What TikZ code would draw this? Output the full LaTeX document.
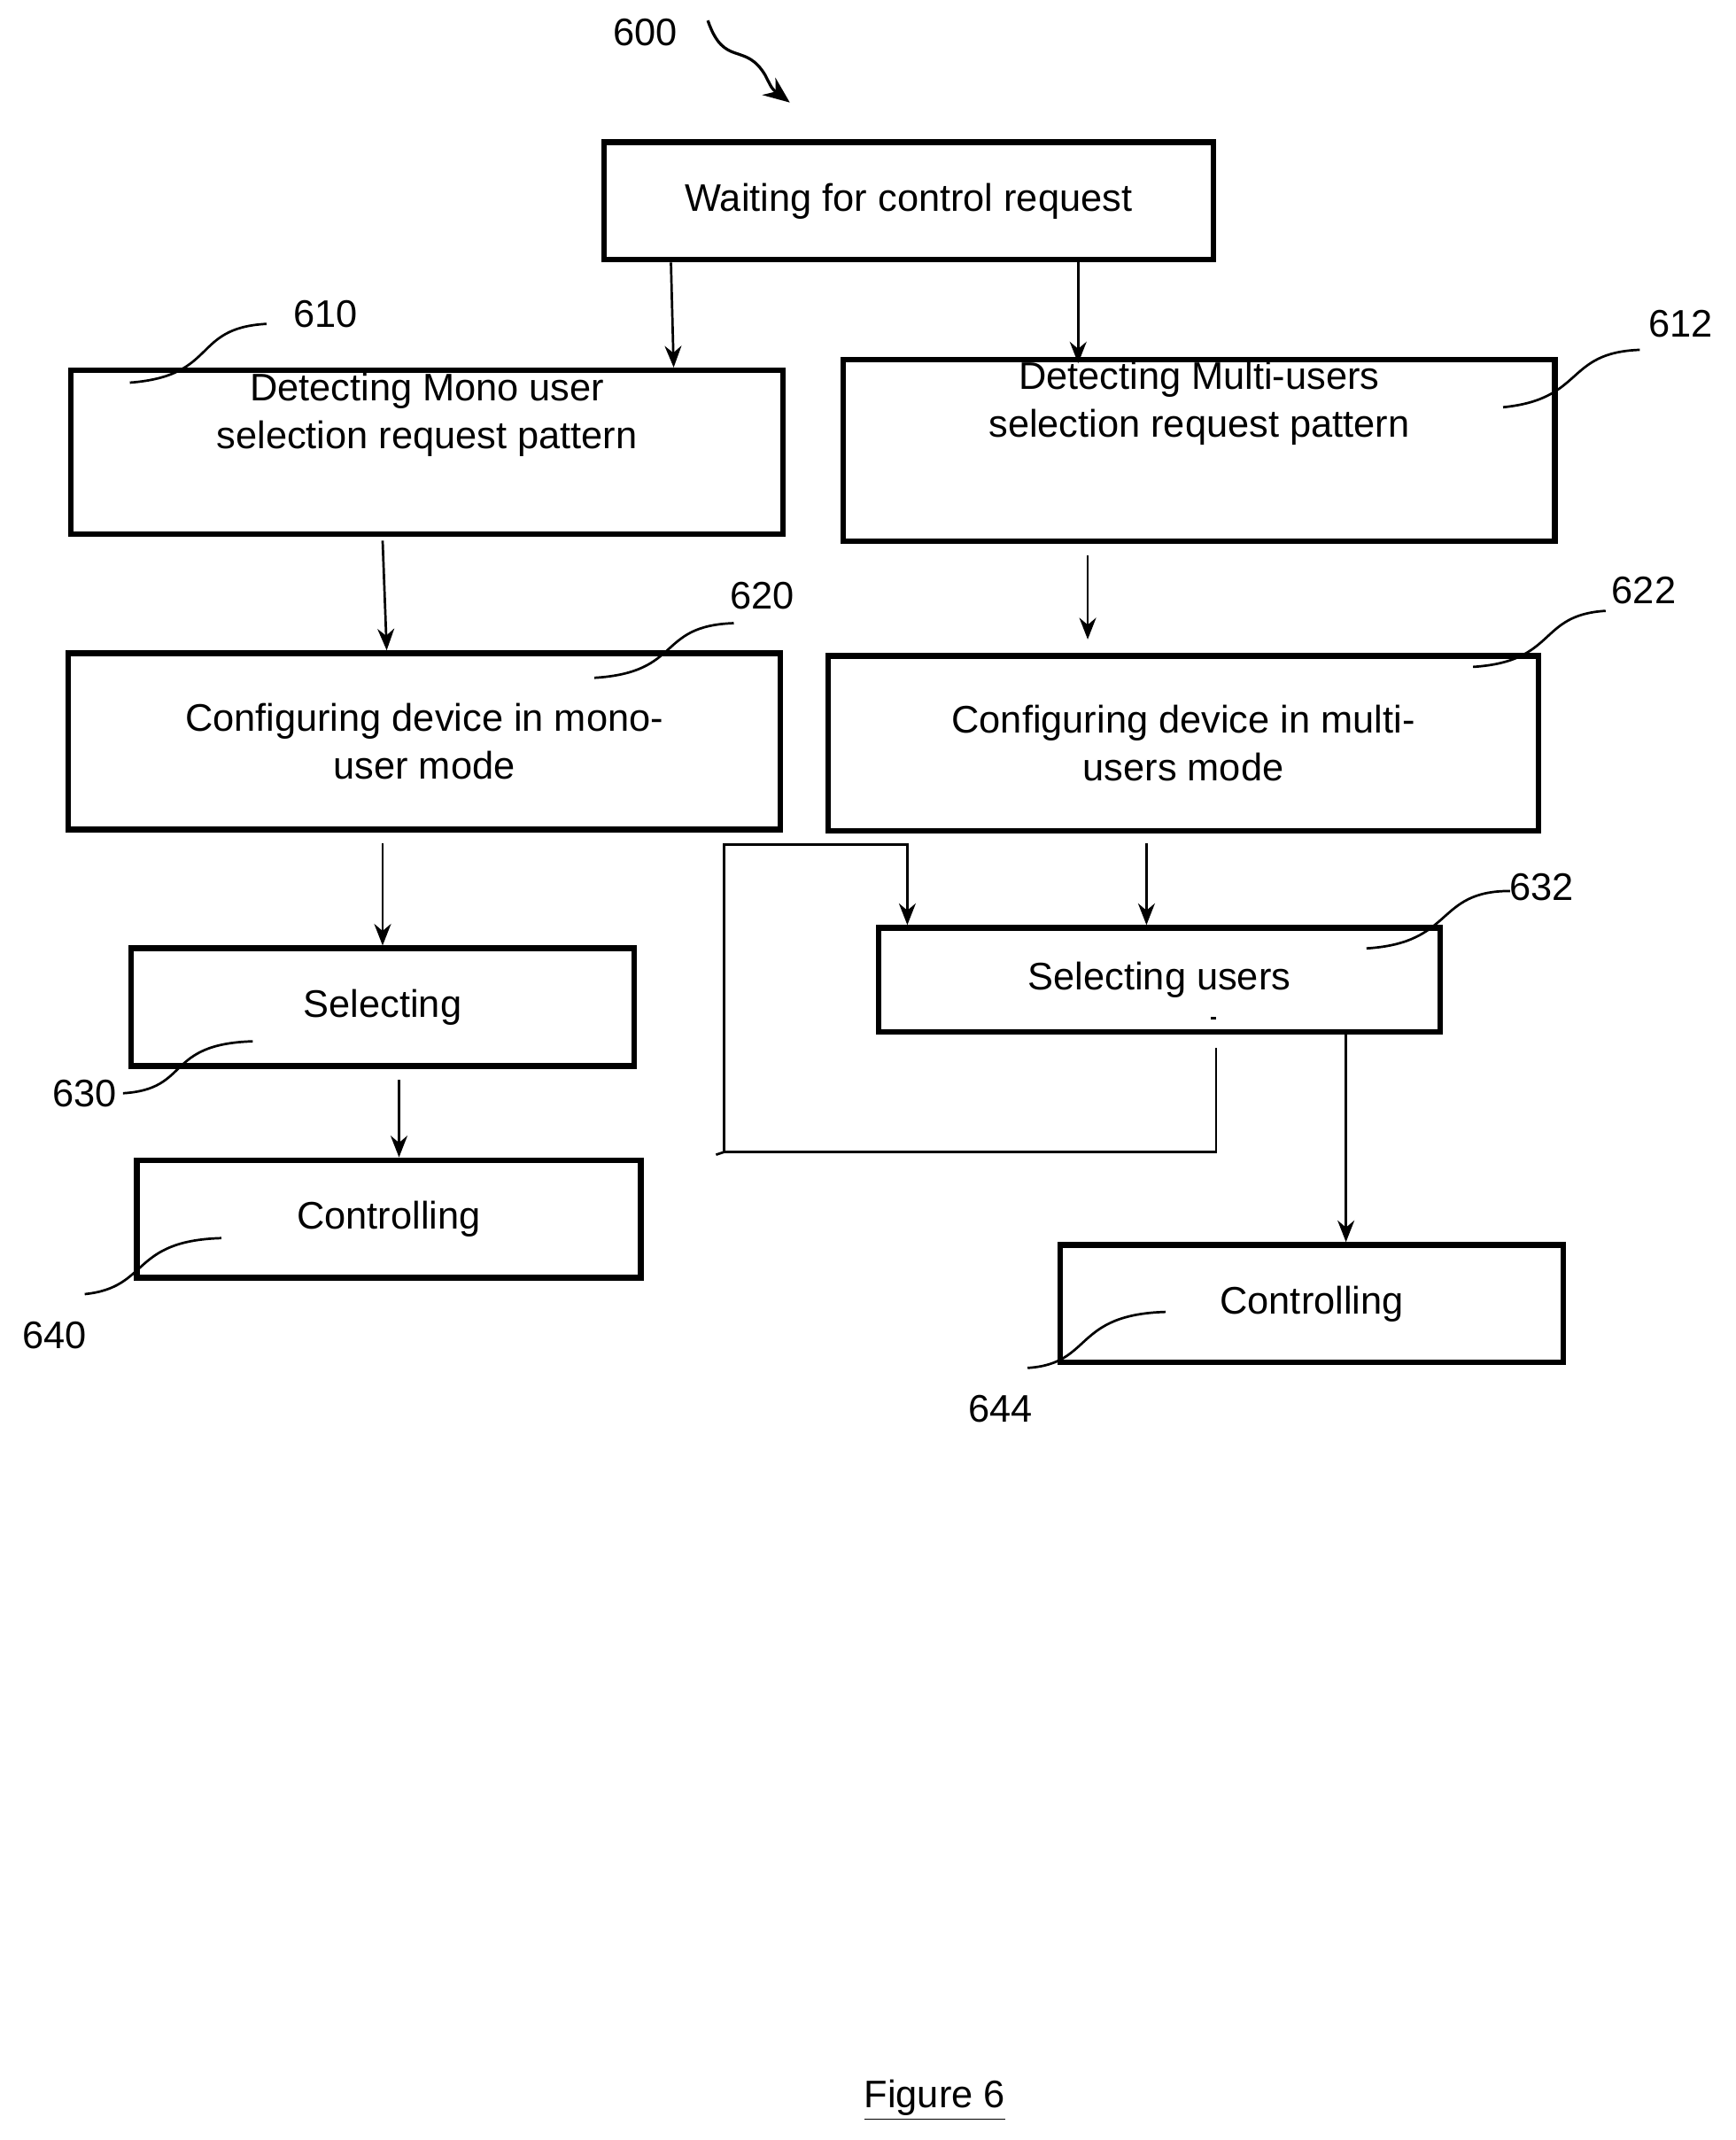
\documentclass[tikz,border=0pt]{standalone}
\usepackage{fontspec}
\setmainfont{Liberation Sans}
\usetikzlibrary{arrows.meta}
\begin{document}
\begin{tikzpicture}[x=0.02cm,y=-0.02cm,
  box/.style={draw,line width=2.4pt,align=center,inner sep=0pt,font=\fontsize{16}{20}\selectfont},
  arr/.style={line width=1pt,-{Stealth[length=9pt,width=7pt]}},
  lead/.style={line width=1pt},
  lbl/.style={font=\fontsize{16}{19}\selectfont}]
\useasboundingbox (0,0) rectangle (1270,1566);
\node[box,minimum width=446*0.02cm,minimum height=86*0.02cm] (w) at (665,147) {Waiting for control request};
\node[box,minimum width=521*0.02cm,minimum height=120*0.02cm] (a) at (312.5,331) {Detecting Mono user\\selection request pattern\\[0.9em]};
\node[box,minimum width=521*0.02cm,minimum height=133*0.02cm] (b) at (877.5,329.5) {Detecting Multi-users\\selection request pattern\\[1.4em]};
\node[box,minimum width=521*0.02cm,minimum height=129*0.02cm] (c) at (310.5,542.5) {Configuring device in mono-\\user mode};
\node[box,minimum width=520*0.02cm,minimum height=128*0.02cm] (d) at (866,544) {Configuring device in multi-\\users mode};
\node[box,minimum width=368*0.02cm,minimum height=86*0.02cm] (e) at (280,737) {Selecting};
\node[box,minimum width=411*0.02cm,minimum height=76*0.02cm] (f) at (848.5,717) {Selecting users};
\node[box,minimum width=369*0.02cm,minimum height=86*0.02cm] (g) at (284.5,892) {Controlling};
\node[box,minimum width=368*0.02cm,minimum height=86*0.02cm] (h) at (960,954) {Controlling};
\draw[arr] (w.south -| 491,0) -- (a.north -| 493,0);
\draw[arr] (w.south -| 789,0) -- ([yshift=-0.1cm]b.north -| 789,0);
\draw[arr] ([yshift=-0.05cm]a.south -| 280,0) -- (c.north -| 283,0);
\draw[arr] ([yshift=-0.16cm]b.south -| 796,0) -- ([yshift=0.2cm]d.north -| 796,0);
\draw[arr] ([yshift=-0.16cm]c.south -| 280,0) -- (e.north -| 280,0);
\draw[arr] ([yshift=-0.14cm]d.south -| 839,0) -- (f.north -| 839,0);
\draw[arr] ([yshift=-0.16cm]e.south -| 292,0) -- (g.north -| 292,0);
\draw[arr] (f.south -| 985,0) -- (h.north -| 985,0);
\coordinate (l1) at (890,843);
\coordinate (l2) at (530,843);
\coordinate (l3) at (530,618);
\draw[line width=1pt] ([yshift=-0.2cm]f.south -| 890,0) -- (l1) -- (l2) -- (l3) -| (664,650);
\draw[arr] (664,640) -- (f.north -| 664,0);
\draw[line width=1pt] (524,845) -- (l2);
\draw[line width=1pt] (886,745) -- (890,745);
% labels
\node[lbl] (n600) at (472,24) {600};
\draw[line width=1.2pt,-{Stealth[length=11pt,width=9pt]}] (518,15) .. controls (530,50) and (545,30) .. (560,55) .. controls (565,65) .. (578,75);
\node[lbl] (n610) at (238,230) {610};
\draw[lead] (195,237) .. controls (140,240) and (160,275) .. (95,280);
\node[lbl] (n612) at (1230,237) {612};
\draw[lead] (1200,256) .. controls (1145,258) and (1160,292) .. (1100,298);
\node[lbl] (n620) at (558,436) {620};
\draw[lead] (537,456) .. controls (480,458) and (500,492) .. (435,496);
\node[lbl] (n622) at (1203,432) {622};
\draw[lead] (1175,447) .. controls (1125,450) and (1140,484) .. (1078,488);
\node[lbl] (n632) at (1128,649) {632};
\draw[lead] (1105,652) .. controls (1050,652) and (1065,690) .. (1000,694);
\node[lbl] (n630) at (62,800) {630};
\draw[lead] (90,800) .. controls (140,797) and (120,764) .. (185,762);
\node[lbl] (n640) at (40,977) {640};
\draw[lead] (62,947) .. controls (110,942) and (95,908) .. (162,906);
\node[lbl] (n644) at (732,1031) {644};
\draw[lead] (752,1001) .. controls (800,998) and (785,962) .. (853,960);
\node[lbl] (fig) at (684,1537) {\underline{Figure 6}};
\end{tikzpicture}
\end{document}
